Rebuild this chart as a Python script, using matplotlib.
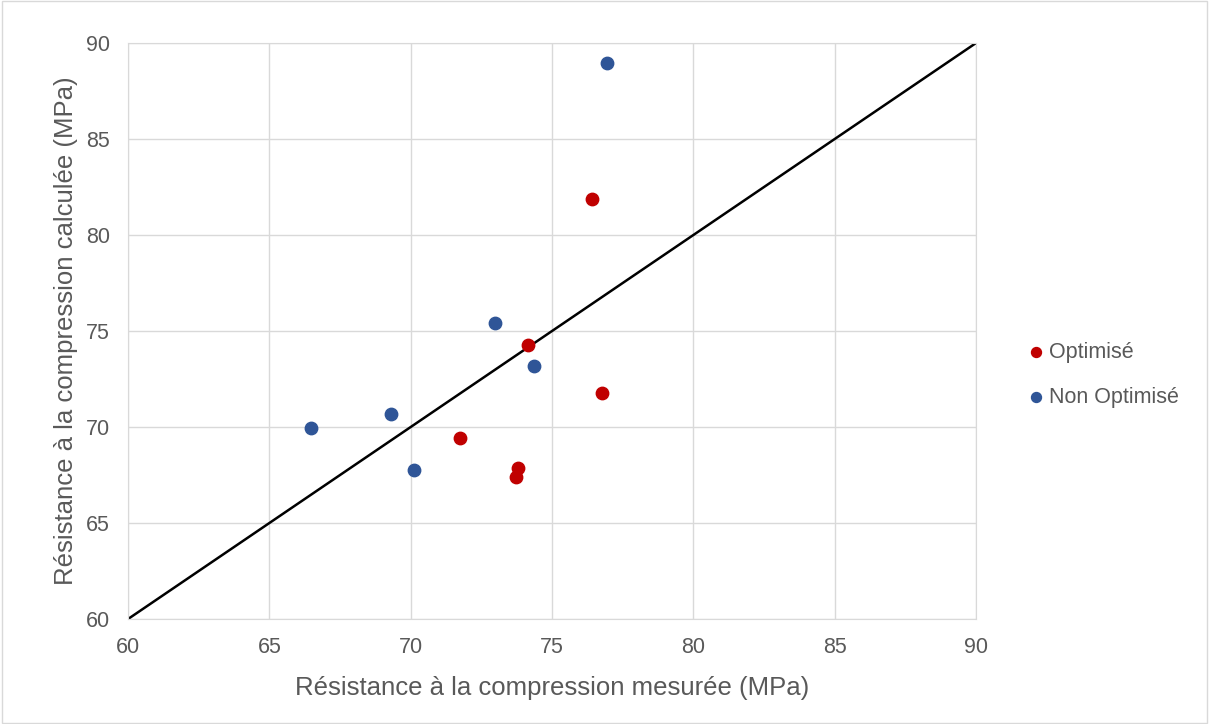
import matplotlib.pyplot as plt
from matplotlib.patches import Rectangle

plt.rcParams['font.family'] = ['Liberation Sans', 'DejaVu Sans']

# Data
opt_x = [76.41, 74.15, 76.77, 71.74, 73.80, 73.72]
opt_y = [81.85, 74.27, 71.75, 69.43, 67.86, 67.40]
nonopt_x = [76.94, 72.98, 74.36, 69.30, 66.47, 70.12]
nonopt_y = [88.95, 75.42, 73.17, 70.68, 69.95, 67.76]
line_x = [60, 90]
line_y = [60, 90]
ticks = [60, 65, 70, 75, 80, 85, 90]

grid_c = '#d9d9d9'
text_c = '#595959'

fig = plt.figure(figsize=(12.09, 7.24), dpi=100)
fig.patches.append(Rectangle((0.002, 0.002), 0.996, 0.996, transform=fig.transFigure,
                             fill=False, edgecolor=grid_c, linewidth=1))
ax = fig.add_axes([0.1059, 0.145, 0.7014, 0.7956])

ax.plot(line_x, line_y, color='black', linewidth=1.8, zorder=2)
ax.scatter(opt_x, opt_y, s=80, color='#c00000', label='Optimisé', zorder=3)
ax.scatter(nonopt_x, nonopt_y, s=80, color='#2f5597', label='Non Optimisé', zorder=3)

ax.set_xlim(60, 90)
ax.set_ylim(60, 90)
ax.set_xticks(ticks)
ax.set_yticks(ticks)
ax.grid(True, color=grid_c, linewidth=1)
ax.set_axisbelow(True)
for s in ax.spines.values():
    s.set_color(grid_c)
ax.tick_params(length=0, labelsize=15.5, colors=text_c)
ax.tick_params(axis='x', pad=13)
ax.tick_params(axis='y', pad=13)

ax.set_xlabel('Résistance à la compression mesurée (MPa)', fontsize=18.5, color=text_c, labelpad=13)
ax.set_ylabel('Résistance à la compression calculée (MPa)', fontsize=18.5, color=text_c, labelpad=6)

leg = ax.legend(loc='center left', bbox_to_anchor=(1.035, 0.424), frameon=False,
                fontsize=15.5, handletextpad=-0.4, labelspacing=1.1, markerscale=0.8,
                borderaxespad=0)
for t in leg.get_texts():
    t.set_color(text_c)

fig.savefig('out.png', dpi=100)
